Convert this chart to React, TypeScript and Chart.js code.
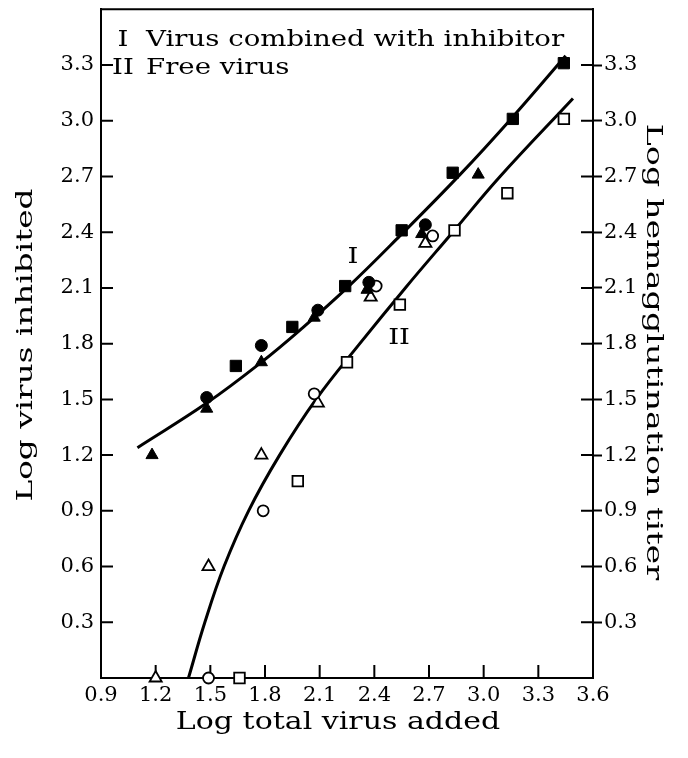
import React, { useEffect, useRef } from 'react';
import { Chart, registerables } from 'chart.js';

Chart.register(...registerables);

const FONT = 'DejaVu Serif';

const X_MIN = 0.9;
const X_MAX = 3.6;
const Y_MIN = 0;
const Y_MAX = 3.6;
const X_TICKS = [0.9, 1.2, 1.5, 1.8, 2.1, 2.4, 2.7, 3.0, 3.3, 3.6];
const Y_TICKS = [0.3, 0.6, 0.9, 1.2, 1.5, 1.8, 2.1, 2.4, 2.7, 3.0, 3.3];

// Curve I: virus combined with inhibitor
const CURVE_I_X = [1.1, 1.48, 1.78, 2.0, 2.25, 2.54, 2.87, 3.15, 3.45];
const CURVE_I_Y = [1.24, 1.48, 1.7, 1.88, 2.1, 2.38, 2.71, 3.01, 3.35];

// Curve II: free virus
const CURVE_II_X = [1.38, 1.47, 1.575, 1.71, 1.88, 2.08, 2.32, 2.57, 2.83, 3.09, 3.49];
const CURVE_II_Y = [0, 0.3, 0.6, 0.9, 1.2, 1.5, 1.8, 2.1, 2.4, 2.7, 3.12];

// Filled symbols (virus inhibited)
const FILLED_SQ_X = [1.64, 1.95, 2.24, 2.55, 2.83, 3.16, 3.44];
const FILLED_SQ_Y = [1.68, 1.89, 2.11, 2.41, 2.72, 3.01, 3.31];
const FILLED_CI_X = [1.48, 1.78, 2.09, 2.37, 2.68];
const FILLED_CI_Y = [1.51, 1.79, 1.98, 2.13, 2.44];
const FILLED_TR_X = [1.18, 1.48, 1.78, 2.07, 2.36, 2.66, 2.97];
const FILLED_TR_Y = [1.2, 1.45, 1.7, 1.94, 2.09, 2.39, 2.71];

// Open symbols (hemagglutination titer)
const OPEN_SQ_X = [1.66, 1.98, 2.25, 2.54, 2.84, 3.13, 3.44];
const OPEN_SQ_Y = [0, 1.06, 1.7, 2.01, 2.41, 2.61, 3.01];
const OPEN_CI_X = [1.49, 1.79, 2.07, 2.41, 2.72];
const OPEN_CI_Y = [0, 0.9, 1.53, 2.11, 2.38];
const OPEN_TR_X = [1.2, 1.49, 1.78, 2.09, 2.38, 2.68];
const OPEN_TR_Y = [0, 0.6, 1.2, 1.48, 2.05, 2.34];

const LEGEND_NUM = ['I', 'II'];
const LEGEND_TEXT = ['Virus combined with inhibitor', 'Free virus'];
const CURVE_LABELS = [
  { text: 'I', x: 2.283, y: 2.235 },
  { text: 'II', x: 2.536, y: 1.8 },
];

const X_TITLE = 'Log total virus added';
const Y_TITLE = 'Log virus inhibited';
const Y2_TITLE = 'Log hemagglutination titer';

const pts = (xs: number[], ys: number[]) => xs.map((x, i) => ({ x, y: ys[i] }));

function wideText(
  ctx: CanvasRenderingContext2D,
  text: string,
  x: number,
  y: number,
  rot: number,
  sx: number,
  align: CanvasTextAlign,
) {
  ctx.save();
  ctx.translate(x, y);
  ctx.rotate(rot);
  ctx.scale(sx, 1);
  ctx.textAlign = align;
  ctx.textBaseline = 'alphabetic';
  ctx.fillText(text, 0, 0);
  ctx.restore();
}

const decor = {
  id: 'decor',
  beforeDatasetsDraw(chart: any) {
    const { ctx, chartArea: a, scales } = chart;
    ctx.save();
    ctx.strokeStyle = '#000';
    ctx.lineWidth = 2;
    ctx.beginPath();
    ctx.moveTo(a.left - 1, a.top);
    ctx.lineTo(a.right + 1, a.top);
    for (const v of Y_TICKS) {
      const y = scales.y.getPixelForValue(v);
      ctx.moveTo(a.left, y);
      ctx.lineTo(a.left + 12, y);
      ctx.moveTo(a.right - 12, y);
      ctx.lineTo(a.right, y);
    }
    for (const v of X_TICKS) {
      if (v <= X_MIN || v >= X_MAX) continue;
      const x = scales.x.getPixelForValue(v);
      ctx.moveTo(x, a.bottom);
      ctx.lineTo(x, a.bottom - 13);
    }
    ctx.stroke();
    ctx.restore();
  },
  afterDraw(chart: any) {
    const { ctx, chartArea: a, scales } = chart;
    ctx.save();
    ctx.fillStyle = '#000';
    // legend block
    ctx.font = `23px "${FONT}"`;
    const base = [a.top + 37, a.top + 65];
    for (let i = 0; i < LEGEND_NUM.length; i++) {
      wideText(ctx, LEGEND_NUM[i], a.left + 22, base[i], 0, 1.2, 'center');
      wideText(ctx, LEGEND_TEXT[i], a.left + 45, base[i], 0, 1.2, 'left');
    }
    // curve labels
    for (const l of CURVE_LABELS) {
      wideText(ctx, l.text, scales.x.getPixelForValue(l.x), scales.y.getPixelForValue(l.y), 0, 1.2, 'center');
    }
    // axis titles
    ctx.font = `24px "${FONT}"`;
    wideText(ctx, X_TITLE, 338, 729, 0, 1.25, 'center');
    ctx.font = `23px "${FONT}"`;
    wideText(ctx, Y_TITLE, 32, 345, -Math.PI / 2, 1.42, 'center');
    wideText(ctx, Y2_TITLE, 647, 352, Math.PI / 2, 1.45, 'center');
    ctx.restore();
  },
};

export default function App() {
  const ref = useRef<HTMLCanvasElement | null>(null);

  useEffect(() => {
    if (!ref.current) return;
    const black = '#000';
    const tickFont = { family: FONT, size: 21 };
    const sym = (data: any[], style: string, filled: boolean, r: number) => ({
      data,
      pointStyle: style,
      pointRadius: r,
      pointBackgroundColor: filled ? black : '#fff',
      pointBorderColor: black,
      pointBorderWidth: filled ? 1 : 1.8,
      showLine: false,
      clip: false,
      order: 0,
    });
    const curve = (data: any[]) => ({
      data,
      showLine: true,
      pointRadius: 0,
      borderColor: black,
      borderWidth: 3,
      tension: 0.4,
      fill: false,
      clip: false,
      order: 10,
    });
    const noPad = (s: any) => {
      s.paddingTop = 0;
      s.paddingBottom = 0;
    };

    const chart = new Chart(ref.current, {
      type: 'scatter',
      data: {
        datasets: [
          sym(pts(FILLED_SQ_X, FILLED_SQ_Y), 'rect', true, 8),
          sym(pts(FILLED_CI_X, FILLED_CI_Y), 'circle', true, 6),
          sym(pts(FILLED_TR_X, FILLED_TR_Y), 'triangle', true, 7),
          sym(pts(OPEN_SQ_X, OPEN_SQ_Y), 'rect', false, 7.5),
          sym(pts(OPEN_CI_X, OPEN_CI_Y), 'circle', false, 5.5),
          sym(pts(OPEN_TR_X, OPEN_TR_Y), 'triangle', false, 7),
          curve(pts(CURVE_I_X, CURVE_I_Y)),
          curve(pts(CURVE_II_X, CURVE_II_Y)),
        ] as any,
      },
      options: {
        animation: false,
        responsive: true,
        maintainAspectRatio: false,
        layout: { padding: { top: 8, left: 0, right: 0, bottom: 0 } },
        plugins: { legend: { display: false }, tooltip: { enabled: false } },
        scales: {
          x: {
            type: 'linear',
            position: 'bottom',
            min: X_MIN,
            max: X_MAX,
            afterBuildTicks: (s: any) => {
              s.ticks = X_TICKS.map((v) => ({ value: v }));
            },
            afterFit: (s: any) => {
              s.height = 80;
              s.paddingLeft = 0;
              s.paddingRight = 0;
            },
            ticks: {
              color: black,
              font: tickFont,
              padding: 5,
              maxRotation: 0,
              autoSkip: false,
              callback: (v: any) => Number(v).toFixed(1),
            },
            grid: { drawOnChartArea: false, drawTicks: false },
            border: { color: black, width: 2 },
          },
          y: {
            type: 'linear',
            position: 'left',
            min: Y_MIN,
            max: Y_MAX,
            afterBuildTicks: (s: any) => {
              s.ticks = Y_TICKS.map((v) => ({ value: v }));
            },
            afterFit: (s: any) => {
              s.width = 101;
              noPad(s);
            },
            ticks: {
              color: black,
              font: tickFont,
              padding: 7,
              autoSkip: false,
              callback: (v: any) => Number(v).toFixed(1),
            },
            grid: { drawOnChartArea: false, drawTicks: false },
            border: { color: black, width: 2 },
          },
          y2: {
            type: 'linear',
            position: 'right',
            min: Y_MIN,
            max: Y_MAX,
            afterBuildTicks: (s: any) => {
              s.ticks = Y_TICKS.map((v) => ({ value: v }));
            },
            afterFit: (s: any) => {
              s.width = 95;
              noPad(s);
            },
            ticks: {
              color: black,
              font: tickFont,
              padding: 2,
              autoSkip: false,
              callback: (v: any) => Number(v).toFixed(1),
            },
            grid: { drawOnChartArea: false, drawTicks: true, tickLength: 9, tickWidth: 2, tickColor: black },
            border: { color: black, width: 2 },
          },
        },
      } as any,
      plugins: [decor],
    });
    return () => chart.destroy();
  }, []);

  return (
    <div style={{ position: 'fixed', left: 0, top: 0, width: 688, height: 758, background: '#fff' }}>
      <canvas ref={ref} />
    </div>
  );
}
